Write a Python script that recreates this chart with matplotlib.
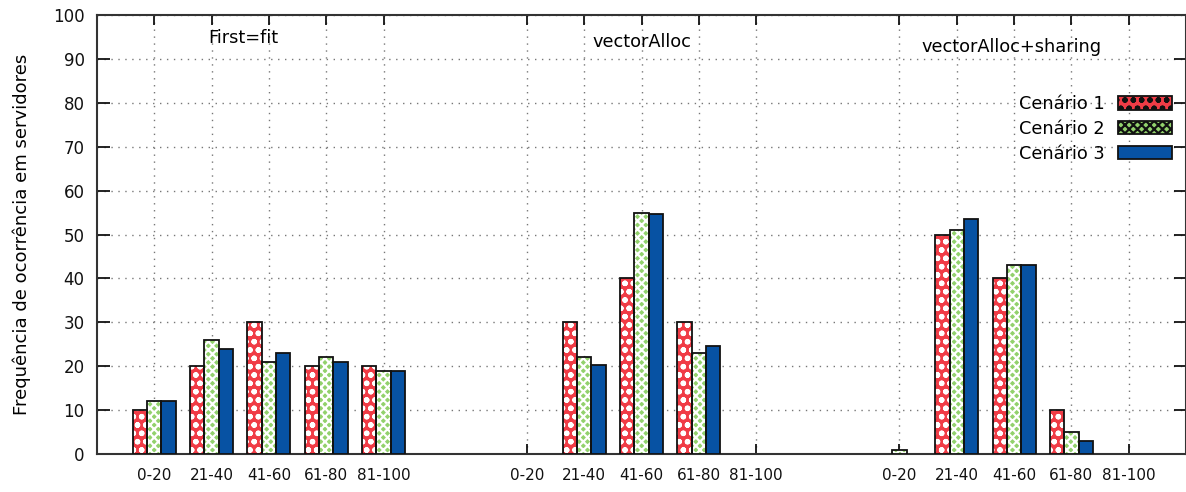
import numpy as np
import matplotlib
matplotlib.use("Agg")
import matplotlib.pyplot as plt
from matplotlib.patches import Patch

# data
ranges = ["0-20", "21-40", "41-60", "61-80", "81-100"]
groups = ["First=fit", "vectorAlloc", "vectorAlloc+sharing"]
series = ["Cenário 1", "Cenário 2", "Cenário 3"]

first_fit = [[10, 20, 30, 20, 20],
             [12, 26, 21, 22, 19],
             [12, 24, 23, 21, 19]]
vector_alloc = [[0, 30, 40, 30, 0],
                [0, 22, 55, 23, 0],
                [0, 20.3, 54.7, 24.5, 0]]
vector_sharing = [[0, 50, 40, 10, 0],
                  [1, 51, 43, 5, 0],
                  [0, 53.5, 43, 3, 0]]

group_data = [first_fit, vector_alloc, vector_sharing]
group_start = [0, 6.5, 13]

plt.rcParams["font.family"] = "DejaVu Sans"
plt.rcParams["hatch.linewidth"] = 1.6
fig = plt.figure(figsize=(11.86, 4.92), dpi=100)
ax = fig.add_axes([0.0818, 0.0772, 0.9182, 0.8923])

face = ["#f03c46", "#92d16c", "#0752a3"]
hatch = ["oo", "xxxx", None]
width = 0.25

for g, data in enumerate(group_data):
    x = group_start[g] + np.arange(len(ranges))
    for s in range(3):
        xs = x + (s - 1) * width
        vals = np.array(data[s], dtype=float)
        vals[vals == 0] = np.nan   # empty bins draw nothing
        if hatch[s]:
            ax.bar(xs, vals, width, color=face[s], edgecolor="white",
                   hatch=hatch[s], linewidth=0, zorder=3)
            ax.bar(xs, vals, width, fill=False, edgecolor="#111111",
                   linewidth=1.3, zorder=4)
        else:
            ax.bar(xs, vals, width, color=face[s], edgecolor="#111111",
                   linewidth=1.3, zorder=3)

# legend handles
handles = []
for s in range(3):
    if hatch[s]:
        handles.append(Patch(facecolor=face[s], edgecolor="white", hatch=hatch[s],
                             linewidth=0))
    else:
        handles.append(Patch(facecolor=face[s], edgecolor="#111111", linewidth=1.3))

ticks = np.concatenate([st + np.arange(len(ranges)) for st in group_start])
ax.set_xticks(ticks)
ax.set_xticklabels(ranges * 3, fontsize=11)
ax.set_xlim(-1, 18)
ax.set_ylim(0, 100)
ax.set_yticks(range(0, 101, 10))
ax.tick_params(axis="y", labelsize=12, direction="in", length=9, width=1.3,
               right=True, pad=9, colors="#111111")
ax.tick_params(axis="x", direction="in", length=7, width=1.3, top=True,
               pad=10, colors="#111111")
for sp in ax.spines.values():
    sp.set_linewidth(1.5)
    sp.set_color("#333333")

ax.grid(True, linestyle=(0, (1, 4)), color="#777777", linewidth=1.0, zorder=0)
ax.set_axisbelow(True)

ax.text(1.55, 94.8, groups[0], ha="center", va="center", fontsize=12.8)
ax.text(8.5, 93.8, groups[1], ha="center", va="center", fontsize=12.8)
ax.text(14.95, 92.7, groups[2], ha="center", va="center", fontsize=12.8)

ax.set_ylabel("Frequência de ocorrência em servidores", fontsize=13, labelpad=16)

leg = ax.legend(handles, series, loc="upper right", bbox_to_anchor=(0.995, 0.838),
                frameon=False, borderpad=0, fontsize=12.8, markerfirst=False,
                handlelength=3.0, handleheight=0.8, labelspacing=0.38,
                handletextpad=0.75)
for h in leg.legend_handles:
    h.set_edgecolor("#111111")
    h.set_linewidth(1.3)

fig.savefig("out.png", dpi=100)
